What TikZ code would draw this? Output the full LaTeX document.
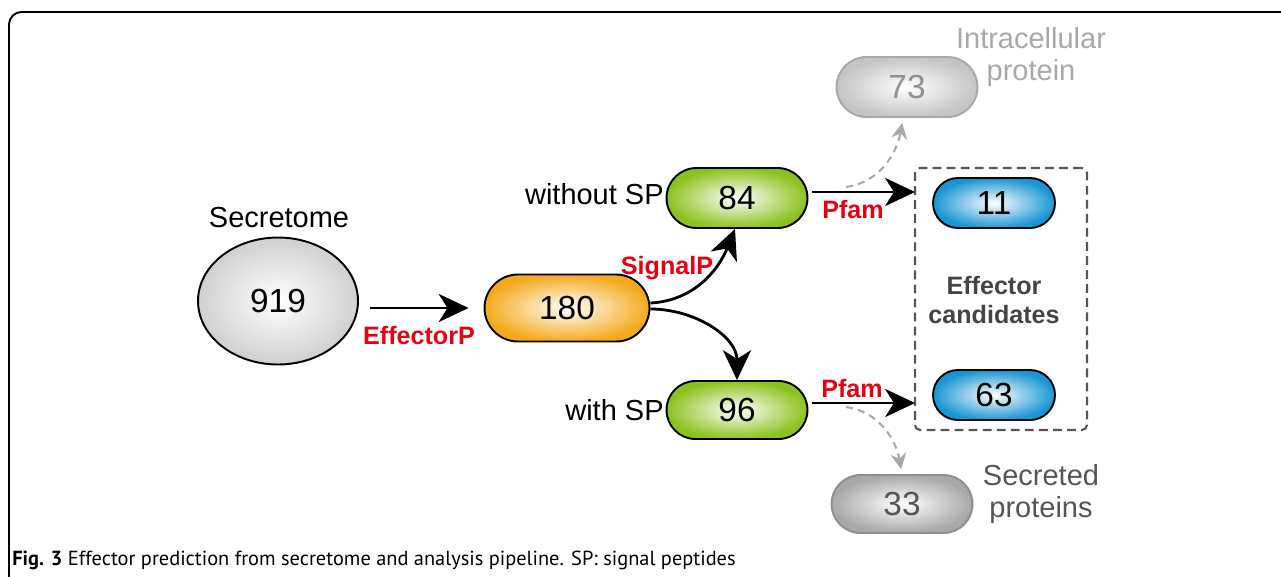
\documentclass[tikz,border=0pt]{standalone}
\usepackage{fontspec}
\setmainfont{Liberation Sans}
\newfontfamily\capfont{PT Sans}
\usetikzlibrary{arrows.meta,shapes.misc,shapes.geometric}
\definecolor{fxred}{HTML}{E60012}
\definecolor{fxorange}{HTML}{F5AA1E}
\definecolor{fxgreen}{HTML}{8CC21F}
\definecolor{fxblue}{HTML}{1A96D4}
\definecolor{fxgrey}{HTML}{C4C4C4}
\definecolor{fxlgrey}{HTML}{A8A8A8}
\definecolor{fxdgrey}{HTML}{555555}
\newcommand\numsize{\fontsize{19}{22}\selectfont}
\newcommand\lblsize{\fontsize{16.5}{19.5}\selectfont}
\newcommand\redsize{\fontsize{14.3}{17}\selectfont\bfseries}
\begin{document}
\begin{tikzpicture}[x=0.02cm,y=-0.02cm,
  pill/.style={rounded rectangle,draw,line width=1.1pt,inner sep=0pt,font=\numsize},
  lbl/.style={font=\lblsize,inner sep=0pt,align=center},
  redlbl/.style={font=\redsize,text=fxred,inner sep=0pt},
  arr/.style={line width=1.6pt,-{Stealth[length=17pt,width=16pt,inset=5pt]}},
  garr/.style={line width=1.2pt,fxlgrey,dash pattern=on 4pt off 3pt,-{Stealth[length=9pt,width=9pt,inset=3pt]}}]
 \useasboundingbox (0,0) rectangle (1281,576);
 \clip (0,0) rectangle (1281,576);
 % frame
 \draw[line width=1.1pt,rounded corners=0.25cm](9,600)--(9,12)--(1300,12);
 % secretome
 \node[ellipse,draw,line width=1.1pt,minimum width=3.2cm,minimum height=2.54cm,
   inner color=white,outer color=fxgrey!80,font=\numsize] (sec) at (278,301) {919};
 \node[lbl] (seclbl) at (279,218) {Secretome};
 % effectorP step
 \node[pill,minimum width=3.3cm,minimum height=1.34cm,inner color=white,outer color=fxorange] (n180) at (567,308) {180};
 \draw[arr,shorten <=0.22cm,shorten >=0.3cm] (sec.east |- n180) -- (n180);
 \node[redlbl] (effp) at (419,336) {EffectorP};
 % signalP step
 \node[pill,minimum width=2.82cm,minimum height=1.2cm,inner color=white,outer color=fxgreen] (n84) at (737,198) {84};
 \node[pill,minimum width=2.82cm,minimum height=1.16cm,inner color=white,outer color=fxgreen] (n96) at (737,410) {96};
 \node[lbl,anchor=east] (wosp) at (664,194) {without SP};
 \node[lbl,anchor=east] (wsp) at (664,410) {with SP};
 \draw[arr] ([yshift=0.1cm]n180.east) to[out=3,in=-112] ([xshift=-0.04cm]n84.south);
 \draw[arr] ([yshift=-0.02cm]n180.east) to[out=0,in=90] (n96.north);
 \node[redlbl] (sigp) at (667,268) {SignalP};
 % effector candidates
 \node[draw=fxdgrey,line width=1.2pt,dash pattern=on 5pt off 3pt,rounded corners=0.1cm,
   minimum width=3.44cm,minimum height=5.24cm] (cand) at (1001,299) {};
 \node[pill,minimum width=2.44cm,minimum height=1cm,inner color=white,outer color=fxblue] (n11) at (994,203) {11};
 \node[pill,minimum width=2.44cm,minimum height=1cm,inner color=white,outer color=fxblue] (n63) at (994,395) {63};
 \node[lbl,font=\redsize,text=fxdgrey!80!black] (candlbl) at (994,300) {Effector\\[-1pt]candidates};
 % pfam step
 \coordinate (t1) at (915,192);
 \coordinate (t2) at (915,403);
 \draw[arr,shorten <=0.08cm] (n84.east |- t1) -- (t1);
 \draw[arr,shorten <=0.08cm] (n96.east |- t2) -- (t2);
 \node[redlbl] (pf1) at (853,210) {Pfam};
 \node[redlbl] (pf2) at (852,389) {Pfam};
 % excluded
 \node[pill,draw=fxlgrey,text=fxlgrey!85!black,minimum width=2.82cm,minimum height=1.2cm,
   inner color=white,outer color=fxgrey] (n73) at (907,87) {73};
 \node[pill,draw=fxlgrey!85!black,text=fxdgrey,minimum width=2.82cm,minimum height=1.16cm,
   inner color=white,outer color=fxlgrey] (n33) at (902,504) {33};
 \node[lbl,text=fxlgrey] (intra) at (1031,57) {Intracellular\\[-1pt]protein};
 \node[lbl,text=fxdgrey] (secr) at (1041,494) {Secreted\\[-1pt]proteins};
 \coordinate (d1) at (846,187);
 \coordinate (d2) at (846,407);
 \draw[garr,shorten >=0.1cm] (d1) to[out=8,in=-100] ([xshift=-0.08cm]n73.south);
 \draw[garr,shorten >=0.1cm] (d2) to[out=-8,in=100] (n33.north);
 % caption
 \node[anchor=west,inner sep=0pt,font=\capfont\fontsize{11.6}{13}\selectfont] (cap) at (12,560)
   {\textbf{Fig. 3} Effector prediction from secretome and analysis pipeline. SP: signal peptides};
\end{tikzpicture}
\end{document}
